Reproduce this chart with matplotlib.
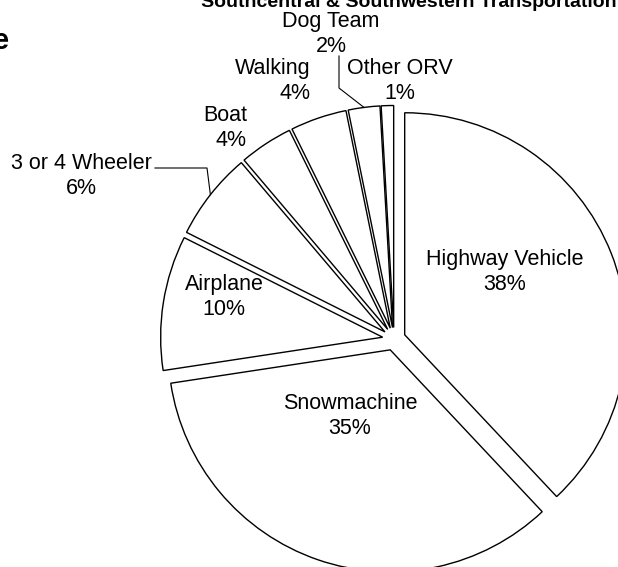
import matplotlib.pyplot as plt
import numpy as np

# transportation shares (percent), clockwise from 12 o'clock
modes = ['Highway Vehicle', 'Snowmachine', 'Airplane', '3 or 4 Wheeler',
         'Boat', 'Walking', 'Dog Team', 'Other ORV']
shares = [38.0, 34.6, 9.8, 6.4, 3.9, 4.1, 2.3, 0.9]

# label block positions in pixels (x from left, y from top) and alignment
label_xy = [(505, 272), (350, 416), (224, 297), (81, 176),
            (247, 128), (311, 81), (331, 34), (400, 81)]
label_ha = ['center', 'center', 'center', 'center',
            'right', 'right', 'center', 'center']

W, H = 618, 567
plt.rcParams['font.family'] = ['Liberation Sans', 'DejaVu Sans']

fig = plt.figure(figsize=(W / 100, H / 100), dpi=100)
ax = fig.add_axes([0, 0, 1, 1])

wedges, _ = ax.pie(shares, center=(394, H - 339), radius=222,
                   explode=[11.5] * len(shares), startangle=90,
                   counterclock=False,
                   wedgeprops=dict(facecolor='white', edgecolor='black',
                                   linewidth=1.0))
ax.set_xlim(0, W)
ax.set_ylim(0, H)
ax.set_aspect('equal')
ax.axis('off')

for name, v, (x, y), ha in zip(modes, shares, label_xy, label_ha):
    ax.text(x, H - y, f'{name}\n{round(v)}%', ha=ha, va='center',
            multialignment=ha, fontsize=15.5, linespacing=1.22)

# leader lines for the two small outside labels
for idx, elbow in [(3, [(155, 168), (207, 168)]), (6, [(339, 56), (339, 88)])]:
    w = wedges[idx]
    th = np.deg2rad((w.theta1 + w.theta2) / 2)
    end = (w.center[0] + w.r * np.cos(th), w.center[1] + w.r * np.sin(th))
    xs = [p[0] for p in elbow] + [end[0]]
    ys = [H - p[1] for p in elbow] + [end[1]]
    ax.plot(xs, ys, color='black', lw=0.8)

ax.text(409, H - 7, 'Southcentral & Southwestern Transportation',
        ha='center', va='baseline', fontsize=14, fontweight='bold')
ax.text(9, H - 41, 'e', ha='right', va='center', fontsize=21,
        fontweight='bold')

fig.savefig('out.png', dpi=100)
